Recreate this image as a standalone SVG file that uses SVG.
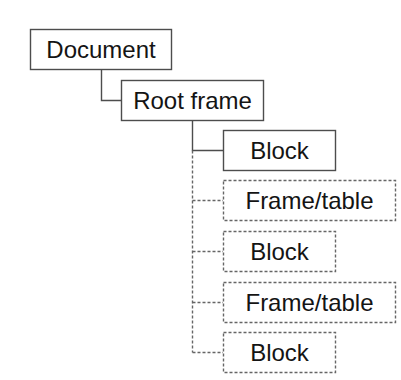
<svg xmlns="http://www.w3.org/2000/svg" width="401" height="380" viewBox="0 0 401 380">
  <style>
    .box { fill: #ffffff; stroke: #4d4d4d; stroke-width: 1.4; }
    .dbox { fill: #ffffff; stroke: #666666; stroke-width: 1.4; stroke-dasharray: 3 2; }
    .label { font-family: "Liberation Sans", Arial, sans-serif; font-size: 24px; fill: #141414; text-anchor: middle; }
    .wire { fill: none; stroke: #4d4d4d; stroke-width: 1.4; }
    .dwire { fill: none; stroke: #666666; stroke-width: 1.4; stroke-dasharray: 3 2; }
  </style>
  <rect width="401" height="380" fill="#ffffff"/>

  <g id="connectors">
    <path class="wire" d="M101.5 69 V100.5 H121"/>
    <path class="wire" d="M192.5 120 V150.5 H223"/>
    <path class="dwire" d="M192.5 150.5 V352.5"/>
    <path class="dwire" d="M192.5 200.5 H223"/>
    <path class="dwire" d="M192.5 251.5 H223"/>
    <path class="dwire" d="M192.5 302.5 H223"/>
    <path class="dwire" d="M192.5 352.5 H223"/>
  </g>

  <g id="document">
    <rect class="box" x="30.5" y="29.5" width="141" height="40"/>
    <text class="label" x="101" y="58">Document</text>
  </g>

  <g id="root-frame">
    <rect class="box" x="121.5" y="80.5" width="142" height="40"/>
    <text class="label" x="192.5" y="109">Root frame</text>
  </g>

  <g id="block-1">
    <rect class="box" x="223.5" y="130.5" width="112" height="40"/>
    <text class="label" x="279.5" y="159">Block</text>
  </g>

  <g id="frame-table-1">
    <rect class="dbox" x="223.5" y="180.5" width="172" height="40"/>
    <text class="label" x="309.5" y="209">Frame/table</text>
  </g>

  <g id="block-2">
    <rect class="dbox" x="223.5" y="231.5" width="112" height="40"/>
    <text class="label" x="279.5" y="260">Block</text>
  </g>

  <g id="frame-table-2">
    <rect class="dbox" x="223.5" y="282.5" width="172" height="40"/>
    <text class="label" x="309.5" y="311">Frame/table</text>
  </g>

  <g id="block-3">
    <rect class="dbox" x="223.5" y="332.5" width="112" height="40"/>
    <text class="label" x="279.5" y="361">Block</text>
  </g>
</svg>
